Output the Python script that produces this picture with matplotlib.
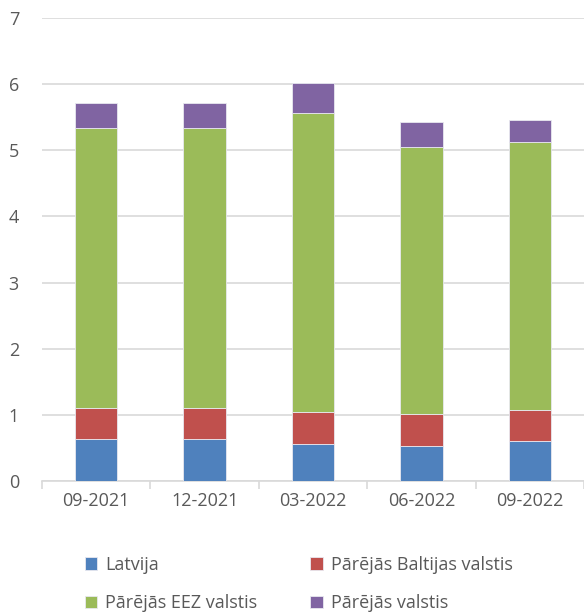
import matplotlib.pyplot as plt
import numpy as np

categories = ["09-2021", "12-2021", "03-2022", "06-2022", "09-2022"]
latvija = [0.63, 0.63, 0.56, 0.53, 0.60]
baltijas = [0.48, 0.48, 0.49, 0.48, 0.48]
eez = [4.23, 4.23, 4.51, 4.04, 4.04]
citas = [0.38, 0.38, 0.45, 0.38, 0.34]
series_names = ["Latvija", "Pārējās Baltijas valstis", "Pārējās EEZ valstis", "Pārējās valstis"]
colors = ["#4F81BD", "#C0504D", "#9BBB59", "#8064A2"]

plt.rcParams['font.family'] = ['Open Sans', 'DejaVu Sans']
fig = plt.figure(figsize=(5.84, 6.14), dpi=100)
ax = fig.add_axes([0.072, 0.2166, 0.928, 0.7541])

x = np.arange(len(categories))
bottom = np.zeros(len(categories))
handles = []
for vals, name, c in zip([latvija, baltijas, eez, citas], series_names, colors):
    b = ax.bar(x, vals, 0.39, bottom=bottom, color=c, edgecolor='#e8e8f0', linewidth=0.6, label=name, zorder=3)
    handles.append(b)
    bottom += np.array(vals)

ax.set_xlim(-0.5, len(categories) - 0.5)
ax.set_ylim(0, 7)
ax.set_yticks(range(0, 8))
ax.yaxis.grid(True, color='#d9d9d9', linewidth=1.2, zorder=0)
for s in ['top', 'right', 'left']:
    ax.spines[s].set_visible(False)
ax.spines['bottom'].set_color('#d9d9d9')
ax.spines['bottom'].set_linewidth(1.2)
ax.set_xticks(x)
ax.set_xticklabels(categories)
ax.set_xticks(np.arange(-0.5, len(categories)), minor=True)
ax.tick_params(axis='x', which='major', length=0, pad=8, labelsize=13, labelcolor='#595959')
ax.tick_params(axis='x', which='minor', length=6, color='#d9d9d9', width=1.2)
ax.tick_params(axis='y', length=0, pad=24, labelsize=13, labelcolor='#595959')
for lbl in ax.get_yticklabels():
    lbl.set_horizontalalignment('left')

order = [0, 2, 1, 3]
leg = fig.legend([handles[i] for i in order], [series_names[i] for i in order], ncol=2,
                 loc='upper left', bbox_to_anchor=(0.145, 0.095), frameon=False,
                 fontsize=13, labelcolor='#595959', handlelength=0.7, handleheight=0.7,
                 handletextpad=0.45, columnspacing=2.93, labelspacing=1.15,
                 borderpad=0, borderaxespad=0)
fig.savefig('out.png', dpi=100)
